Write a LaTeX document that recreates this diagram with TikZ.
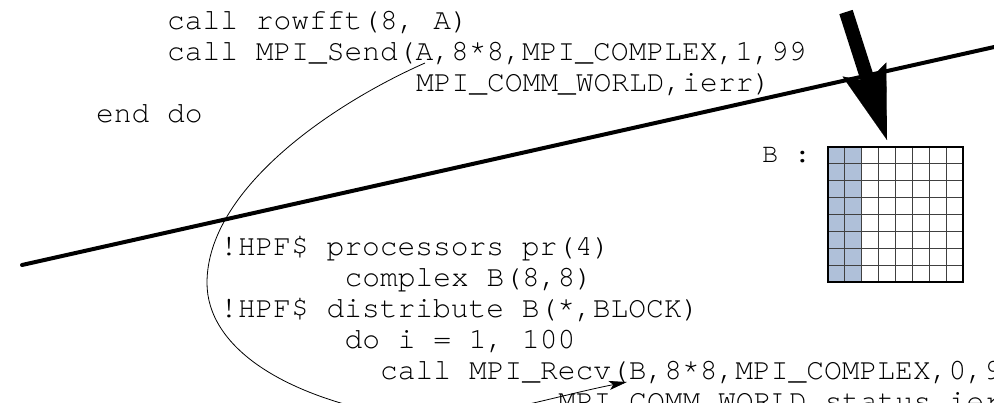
\documentclass[tikz,border=0pt]{standalone}
\usepackage{fontspec}
\setmonofont[Ligatures={NoCommon,NoRequired,NoContextual}]{TeX Gyre Cursor}
\usetikzlibrary{arrows.meta}
\definecolor{blockblue}{RGB}{175,192,217}
\tikzset{
  code/.style={anchor=base west, inner sep=0pt, outer sep=0pt,
    font=\ttfamily\fontsize{29.6}{31}\selectfont},
  label/.style={anchor=base west, inner sep=0pt, outer sep=0pt,
    font=\ttfamily\fontsize{27}{31}\selectfont},
  divider/.style={line width=4pt, line cap=round},
  bigarrow/.style={line width=14pt,
    -{Stealth[length=74pt, width=46pt, inset=12pt, line width=0.1pt]}},
  msgarrow/.style={line width=0.8pt,
    -{Stealth[length=18pt, width=9pt, inset=4pt]}},
  cellline/.style={line width=1pt, black!75},
  gridframe/.style={line width=1.8pt, black}
}
\begin{document}
\begin{tikzpicture}[x=1pt, y=-1pt]
  \useasboundingbox (0,0) rectangle (994,402);
  \clip (0,0) rectangle (994,402);

  % sender code
  \node[code] (s1) at (167,29.5) {call rowfft(8, A)};
  \node[code] (s2) at (167,60.5) {call MPI\_Send(A,8*8,MPI\_COMPLEX,1,99};
  \node[code] (s3) at (416,91.5) {MPI\_COMM\_WORLD,ierr)};
  \node[code] (s4) at (96,122.5) {end do};

  % receiver code
  \node[code] (r1) at (220,255) {!HPF\$ processors pr(4)};
  \node[code] (r2) at (344.6,286) {complex B(8,8)};
  \node[code] (r3) at (220,317) {!HPF\$ distribute B(*,BLOCK)};
  \node[code] (r4) at (344.6,348) {do i = 1, 100};
  \node[code] (r5) at (380.2,379) {call MPI\_Recv(B,8*8,MPI\_COMPLEX,0,99};
  \node[code] (r6) at (558.2,410) {MPI\_COMM\_WORLD,status,ierr)};

  % array B distributed by column blocks
  \node[label] (blab) at (762,162.7) {B :};
  \fill[blockblue] (828,147) rectangle (861.8,282.2);
  \foreach \i in {1,...,7} {
    \draw[cellline] (828+16.9*\i,147) -- (828+16.9*\i,282.2);
    \draw[cellline] (828,147+16.9*\i) -- (963.2,147+16.9*\i);
  }
  \draw[gridframe] (828,147) rectangle (963.2,282.2);
  \coordinate (gridtop) at (887,140);

  % separating line between the two programs
  \coordinate (divL) at (22,265);
  \coordinate (divR) at (1000,45.7);
  \draw[divider] (divL) -- (divR);

  % thick arrow onto the array
  \coordinate (bigtail) at (846,12);
  \draw[bigarrow] (bigtail) -- (gridtop);

  % message from the send to the receive
  \coordinate (sendA) at (425,63);
  \coordinate (recvB) at (627,382);
  \draw[msgarrow] (sendA)
    .. controls (330,105) and (207,190) .. (207,283)
    .. controls (207,345) and (280,400) .. (420,420)
    .. controls (480,420) and (560,395) .. (recvB);
\end{tikzpicture}
\end{document}
